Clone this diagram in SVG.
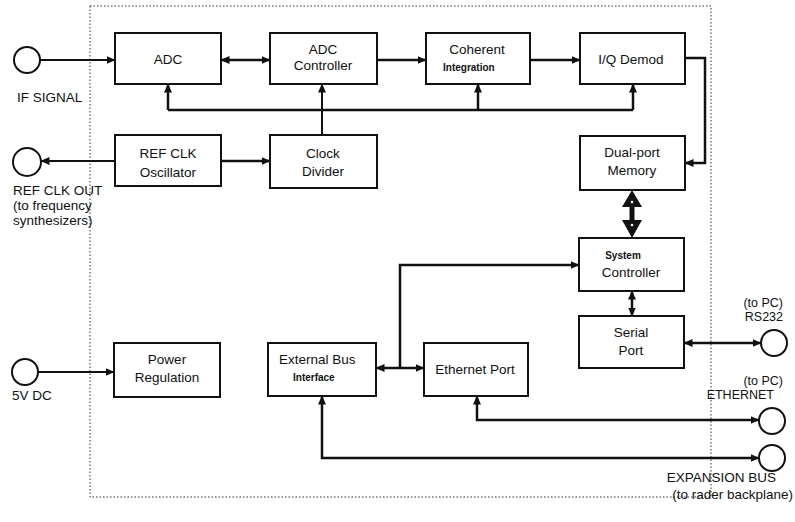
<svg xmlns="http://www.w3.org/2000/svg" width="795" height="522" viewBox="0 0 795 522">
<style>
.box{fill:#fff;stroke:#111;stroke-width:2}
.port{fill:#fff;stroke:#111;stroke-width:2}
.t{font-family:"Liberation Sans",Arial,sans-serif;font-size:13.5px;fill:#111;text-anchor:middle}
.lbl{font-family:"Liberation Sans",Arial,sans-serif;font-size:13.5px;fill:#111}
.pc{font-family:"Liberation Sans",Arial,sans-serif;font-size:12.5px;fill:#111;text-anchor:end}
.sm{font-family:"Liberation Sans",Arial,sans-serif;font-size:10px;font-weight:bold;fill:#111}
.c{fill:none;stroke:#111;stroke-width:2.5}
.thin{fill:none;stroke:#111;stroke-width:2}
.border{fill:none;stroke:#333;stroke-width:1;stroke-dasharray:1.5 2}
</style>
<defs>
<marker id="ah" markerUnits="userSpaceOnUse" markerWidth="9" markerHeight="8" refX="8.5" refY="4" orient="auto-start-reverse" viewBox="0 0 9 8">
<path d="M0,0 L9,4 L0,8 z" fill="#111"/>
</marker>
</defs>
<rect class="border" x="90" y="6" width="621" height="491"/>
<g id="connectors">
<path class="thin" d="M40,60 H115" marker-end="url(#ah)"/>
<path class="c" d="M221,60 H270" marker-start="url(#ah)" marker-end="url(#ah)"/>
<path class="c" d="M377,60 H426" marker-end="url(#ah)"/>
<path class="c" d="M530,60 H580" marker-end="url(#ah)"/>
<path class="c" d="M685,58 H705 V163 H685" marker-end="url(#ah)"/>
<path class="c" d="M168,110 H633"/>
<path class="c" d="M168,110 V84" marker-end="url(#ah)"/>
<path class="c" d="M478,110 V84" marker-end="url(#ah)"/>
<path class="c" d="M633,110 V84" marker-end="url(#ah)"/>
<path class="thin" d="M322,135 V84" marker-end="url(#ah)"/>
<path class="c" d="M221,161 H270" marker-end="url(#ah)"/>
<path class="thin" d="M115,161 H41" marker-end="url(#ah)"/>
<g id="bigarrow">
<rect x="629.5" y="205" width="5" height="17" fill="#111"/>
<polygon points="632,190 622,207 642,207" fill="#111"/>
<polygon points="632,238 622,220 642,220" fill="#111"/>
<circle cx="632" cy="202" r="1.3" fill="#fff"/>
<circle cx="632" cy="225" r="1.3" fill="#fff"/>
</g>
<path class="c" d="M632,291 V316" marker-start="url(#ah)" marker-end="url(#ah)"/>
<path class="c" d="M684,343 H761" marker-start="url(#ah)" marker-end="url(#ah)"/>
<path class="thin" d="M38,372 H114" marker-end="url(#ah)"/>
<path class="c" d="M376,368 H424" marker-start="url(#ah)" marker-end="url(#ah)"/>
<path class="c" d="M400,368 V265 H579" marker-end="url(#ah)"/>
<path class="c" d="M477,396 V420 H759" marker-start="url(#ah)" marker-end="url(#ah)"/>
<path class="c" d="M322,396 V458 H759" marker-start="url(#ah)" marker-end="url(#ah)"/>
</g>
<g id="if-signal">
<circle class="port" cx="27" cy="60" r="13"/>
<text class="lbl" x="17" y="102">IF SIGNAL</text>
</g>
<g id="ref-clk-out">
<circle class="port" cx="27" cy="162" r="14"/>
<text class="lbl" x="13" y="195">REF CLK OUT</text>
<text class="lbl" x="13" y="210">(to frequency</text>
<text class="lbl" x="13" y="225">synthesizers)</text>
</g>
<g id="v5dc">
<circle class="port" cx="25" cy="372" r="13"/>
<text class="lbl" x="12" y="400">5V DC</text>
</g>
<g id="rs232">
<circle class="port" cx="774" cy="343" r="13"/>
<text class="pc" x="783" y="307">(to PC)</text>
<text class="pc" x="783" y="321">RS232</text>
</g>
<g id="ethernet">
<circle class="port" cx="772" cy="421" r="13"/>
<text class="pc" x="783" y="385">(to PC)</text>
<text class="pc" x="774" y="399">ETHERNET</text>
</g>
<g id="expansion">
<circle class="port" cx="772" cy="458" r="13"/>
<text class="lbl" x="776" y="482" text-anchor="end">EXPANSION BUS</text>
<text class="lbl" x="793" y="499" text-anchor="end">(to rader backplane)</text>
</g>
<g id="adc">
<rect class="box" x="115" y="33" width="106" height="51"/>
<text class="t" x="168" y="64">ADC</text>
</g>
<g id="adc-controller">
<rect class="box" x="270" y="33" width="107" height="51"/>
<text class="t" x="323" y="54">ADC</text>
<text class="t" x="323" y="70">Controller</text>
</g>
<g id="coherent">
<rect class="box" x="426" y="33" width="104" height="51"/>
<text class="t" x="477" y="54">Coherent</text>
<text class="sm" x="443" y="71">Integration</text>
</g>
<g id="iq-demod">
<rect class="box" x="580" y="33" width="105" height="51"/>
<text class="t" x="631" y="64">I/Q Demod</text>
</g>
<g id="ref-clk-osc">
<rect class="box" x="115" y="135" width="106" height="51"/>
<text class="t" x="168" y="158">REF CLK</text>
<text class="t" x="168" y="177">Oscillator</text>
</g>
<g id="clock-divider">
<rect class="box" x="270" y="135" width="107" height="53"/>
<text class="t" x="323" y="158">Clock</text>
<text class="t" x="323" y="176">Divider</text>
</g>
<g id="dual-port">
<rect class="box" x="580" y="136" width="105" height="54"/>
<text class="t" x="632" y="157">Dual-port</text>
<text class="t" x="632" y="175">Memory</text>
</g>
<g id="system-controller">
<rect class="box" x="579" y="238" width="105" height="53"/>
<text class="sm" x="623" y="259" text-anchor="middle">System</text>
<text class="t" x="631" y="277">Controller</text>
</g>
<g id="serial-port">
<rect class="box" x="579" y="316" width="105" height="52"/>
<text class="t" x="631" y="337">Serial</text>
<text class="t" x="631" y="355">Port</text>
</g>
<g id="power">
<rect class="box" x="114" y="343" width="106" height="54"/>
<text class="t" x="167" y="364">Power</text>
<text class="t" x="167" y="382">Regulation</text>
</g>
<g id="ext-bus">
<rect class="box" x="268" y="343" width="108" height="53"/>
<text class="lbl" x="279" y="364">External Bus</text>
<text class="sm" x="293" y="381">Interface</text>
</g>
<g id="ethernet-port">
<rect class="box" x="424" y="343" width="104" height="53"/>
<text class="t" x="475" y="374">Ethernet Port</text>
</g>
</svg>
